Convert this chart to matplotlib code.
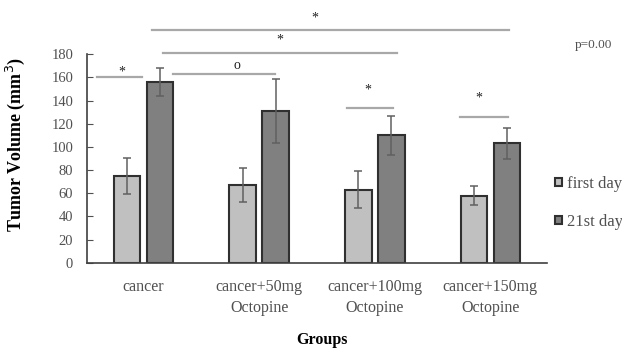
import numpy as np
import matplotlib
matplotlib.use("Agg")
import matplotlib.pyplot as plt

plt.rcParams['font.family'] = ['Liberation Serif', 'DejaVu Serif']

groups = ["cancer", "cancer+50mg\nOctopine", "cancer+100mg\nOctopine", "cancer+150mg\nOctopine"]
first_day = [75, 67, 63, 58]
first_day_err = [15.5, 15, 16, 8]
day21 = [156, 131, 110, 103]
day21_err = [12, 28, 17, 13.5]

# significance brackets: (x0, x1, y, label, label_x, label_y)
sig_lines = [
    (-0.40, -0.01, 160, "*", -0.19, 165),
    (0.255, 1.14, 162.7, "o", 0.81, 170),
    (0.17, 2.19, 181.3, "*", 1.18, 192),
    (0.07, 3.16, 200.7, "*", 1.48, 211),
    (1.76, 2.16, 134, "*", 1.94, 149),
    (2.74, 3.15, 126, "*", 2.90, 142),
]

fig = plt.figure(figsize=(6.22, 3.51), dpi=100)
ax = fig.add_axes([0.1399, 0.2516, 0.7395, 0.5937])

x = np.arange(len(groups))
w = 0.23
off = 0.143
err_kw = dict(ecolor="#606060", elinewidth=1.1, capsize=3, capthick=1.1)
b1 = ax.bar(x - off, first_day, w, yerr=first_day_err, color="#c0c0c0",
            edgecolor="#303030", linewidth=1.5, error_kw=err_kw, label="first day")
b2 = ax.bar(x + off, day21, w, yerr=day21_err, color="#808080",
            edgecolor="#303030", linewidth=1.5, error_kw=err_kw, label="21st day")

for x0, x1, y, lab, lx, ly in sig_lines:
    ax.plot([x0, x1], [y, y], color="#a8a8a8", lw=1.6, clip_on=False)
    ax.text(lx, ly, lab, ha="center", va="center", fontsize=10, color="#202020",
            clip_on=False)

ax.set_xlim(-0.49, 3.49)
ax.set_ylim(0, 180)
ax.set_yticks(range(0, 181, 20))
ax.set_xticks(x)
ax.set_xticklabels(groups, fontsize=11.5, color="#505050", linespacing=1.35)
ax.tick_params(axis="x", length=0, pad=12)
ax.tick_params(axis="y", direction="in", length=4, colors="#505050",
               labelsize=10.5, pad=10)

for s in ["top", "right"]:
    ax.spines[s].set_visible(False)
ax.spines["left"].set_color("#404040")
ax.spines["bottom"].set_color("#404040")
ax.spines["left"].set_linewidth(1.2)
ax.spines["bottom"].set_linewidth(1.2)

ax.set_ylabel("Tumor Volume (mm$^3$)", fontsize=13, fontweight="bold")
ax.yaxis.set_label_coords(-0.130, 0.565)
ax.set_xlabel("Groups", fontsize=11.5, fontweight="bold")
ax.xaxis.set_label_coords(0.511, -0.335)

fig.text(593 / 622, 1 - 45 / 351, "p=0.00", ha="center", va="center",
         fontsize=9.5, color="#505050")

ax.legend(handles=[b1, b2], loc="center left", bbox_to_anchor=(555 / 622, 1 - 203 / 351),
          bbox_transform=fig.transFigure, frameon=False, fontsize=12,
          handlelength=0.4, handleheight=0.4, handletextpad=0.3,
          labelspacing=1.3, borderpad=0, borderaxespad=0, labelcolor="#505050")

fig.savefig("out.png", dpi=100)
